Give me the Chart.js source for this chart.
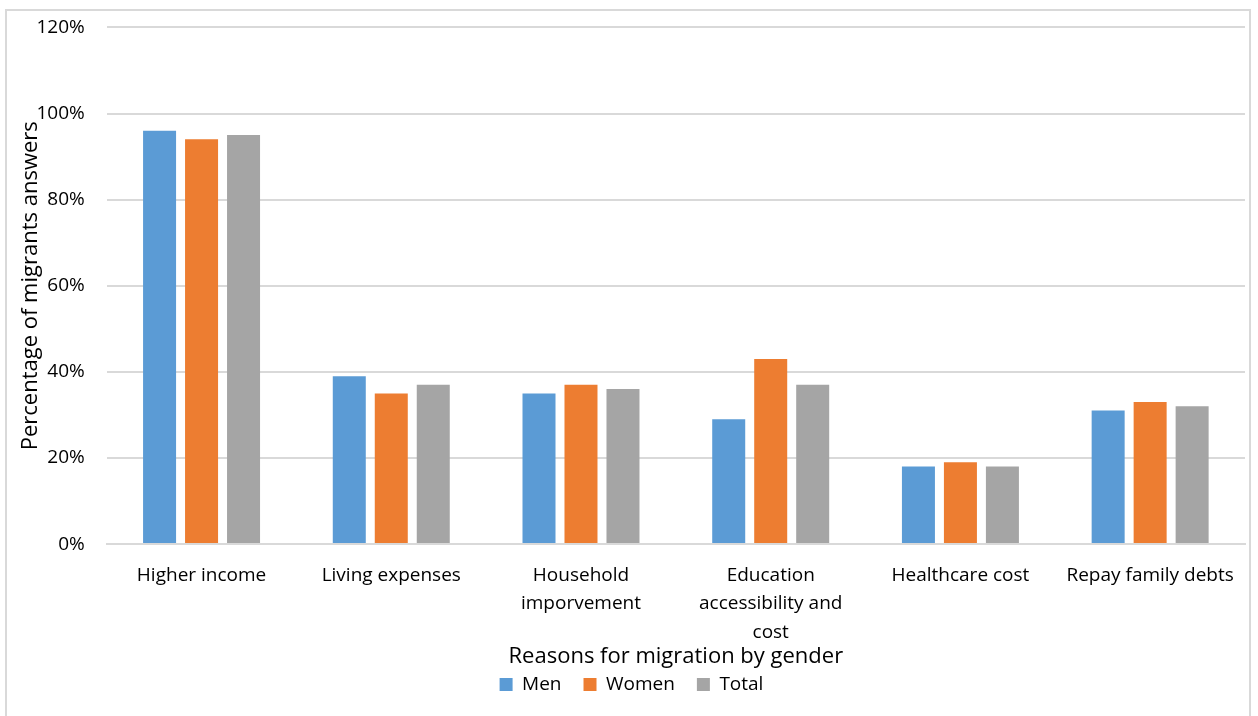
<!DOCTYPE html>
<html>
<head>
<meta charset="utf-8">
<script src="https://cdn.jsdelivr.net/npm/chart.js@4/dist/chart.umd.min.js"></script>
<style>
  html, body { margin: 0; padding: 0; background: #fff; width: 1258px; height: 716px; overflow: hidden; }
  #frame { position: absolute; left: 5px; top: 9px; width: 1246px; height: 720px; border: 2px solid #d9d9d9; box-sizing: border-box; }
  #wrap { position: absolute; left: 0; top: -6px; width: 1258px; height: 722px; }
</style>
</head>
<body>
<div id="frame"></div>
<div id="wrap"><canvas id="c" width="1258" height="722"></canvas></div>
<script>
const categories = ["Higher income", "Living expenses", ["Household", "imporvement"], ["Education", "accessibility and", "cost"], "Healthcare cost", "Repay family debts"];
const menValues = [96, 39, 35, 29, 18, 31];
const womenValues = [94, 35, 37, 43, 19, 33];
const totalValues = [95, 37, 36, 37, 18, 32];
const yTicks = [0, 20, 40, 60, 80, 100, 120];

const FONT = "'Open Sans', 'Liberation Sans', sans-serif";

new Chart(document.getElementById('c'), {
  type: 'bar',
  data: {
    labels: categories,
    datasets: [
      { label: 'Men', data: menValues, backgroundColor: '#5b9bd5' },
      { label: 'Women', data: womenValues, backgroundColor: '#ed7d31' },
      { label: 'Total', data: totalValues, backgroundColor: '#a5a5a5' }
    ]
  },
  options: {
    responsive: false,
    animation: false,
    devicePixelRatio: 1,
    layout: { padding: { left: 18, right: 13, top: 0, bottom: 12 } },
    datasets: { bar: { categoryPercentage: 0.664, barPercentage: 0.786 } },
    plugins: {
      legend: {
        position: 'bottom',
        labels: { font: { family: FONT, size: 19 }, color: '#000', boxWidth: 13, boxHeight: 13, padding: 22 }
      },
      tooltip: { enabled: false }
    },
    scales: {
      x: {
        grid: { display: false },
        border: { color: '#d9d9d9', width: 2 },
        ticks: { font: { family: FONT, size: 19, lineHeight: 1.5 }, color: '#000', maxRotation: 0, autoSkip: false, padding: 9 },
        title: { display: true, text: 'Reasons for migration by gender', font: { family: FONT, size: 22 }, color: '#000', padding: { top: -12, bottom: -17 } }
      },
      y: {
        min: 0, max: 120,
        afterBuildTicks: (axis) => { axis.ticks = yTicks.map(v => ({ value: v })); },
        grid: { color: '#d9d9d9', lineWidth: 2, drawTicks: false },
        border: { display: false },
        ticks: { font: { family: FONT, size: 19 }, color: '#000', padding: 22, callback: v => v + '%' },
        title: { display: true, text: 'Percentage of migrants answers', font: { family: FONT, size: 22 }, color: '#000', padding: { top: 0, bottom: -30 } }
      }
    }
  }
});
</script>
</body>
</html>
